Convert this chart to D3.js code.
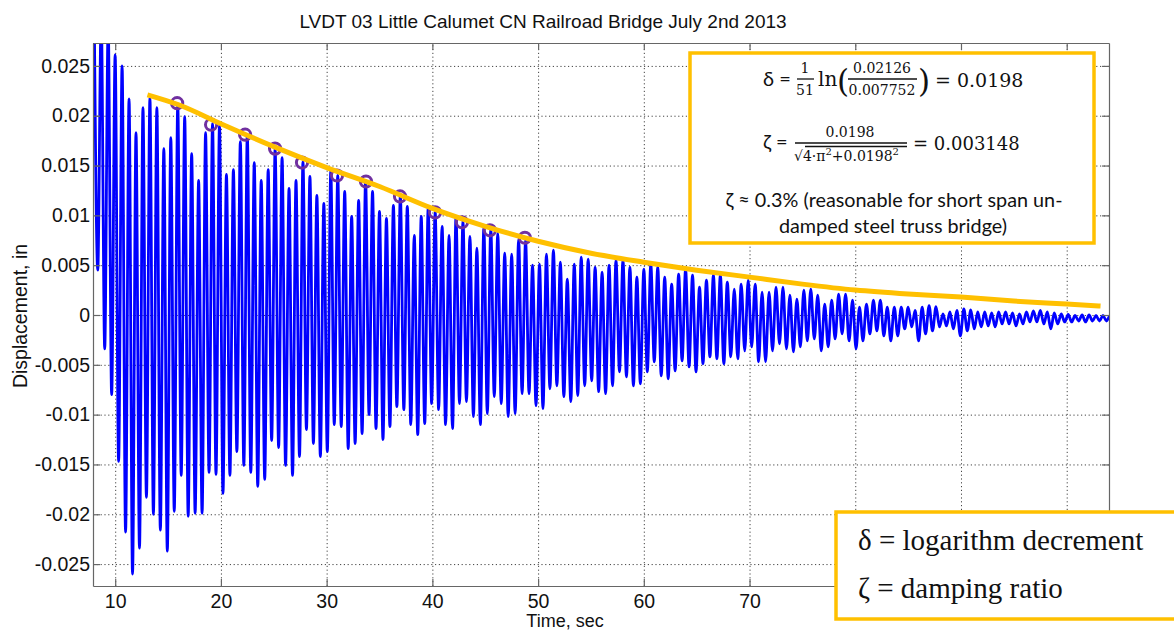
<!DOCTYPE html>
<html>
<head>
<meta charset="utf-8">
<script src="https://cdn.jsdelivr.net/npm/d3@7"></script>
<style>
  body { margin: 0; background: #fff; }
  svg { display: block; }
</style>
</head>
<body>
<svg id="chart"></svg>
<script>
const width = 1174, height = 631;

// displacement record: one peak and the trough after it, per cycle
const firstPeakTime = 8.02;
const cyclePeriod = 0.658;
const peakValues = [
  0.030, 0.030, 0.029, 0.0261, 0.0250, 0.0217, 0.0183, 0.0208, 0.0218, 0.0208,
  0.0167, 0.0178, 0.0211, 0.0199, 0.0162, 0.0135, 0.0183, 0.0192, 0.0190, 0.0141,
  0.0146, 0.0174, 0.0181, 0.0153, 0.0135, 0.0146, 0.0167, 0.0158, 0.0127, 0.0135,
  0.0154, 0.0139, 0.0120, 0.0112, 0.0145, 0.0140, 0.0124, 0.0099, 0.0115, 0.0135,
  0.0124, 0.0104, 0.0097, 0.0110, 0.0120, 0.0109, 0.0080, 0.0099, 0.0107, 0.0104,
  0.0089, 0.0080, 0.0099, 0.0095, 0.0079, 0.0067, 0.0087, 0.0087, 0.0082, 0.0062,
  0.0061, 0.0076, 0.0075, 0.0050, 0.0051, 0.0061, 0.0065, 0.0053, 0.0036, 0.0051,
  0.0058, 0.0056, 0.0048, 0.0043, 0.0050, 0.0055, 0.0055, 0.0048, 0.0038, 0.0046,
  0.0051, 0.0048, 0.0038, 0.0031, 0.0041, 0.0046, 0.0040, 0.0028, 0.0035, 0.0040,
  0.0040, 0.0033, 0.0026, 0.0031, 0.0035, 0.0031, 0.0023, 0.0023, 0.0028, 0.0028,
  0.0020, 0.0016, 0.0025, 0.0026, 0.0020, 0.0011, 0.0015, 0.0021, 0.0021, 0.0015,
  0.0008, 0.0011, 0.0015, 0.0015, 0.0008, 0.0008, 0.0008, 0.0008,
  0.00045, 0.0008, 0.00095, 0.00085, 0.0001, 0.0003, 0.00045, 0.0006, 0.0005, 0.0003,
  0.0003, 0.0002, 0.0003, 0.0003, 0.0002, 0.0001, 0.0003, 0.0004, 0.00045, 0.0003,
  0.0002, 0.0001, 0.00005, -0.00005, 0, 0, -0.00005, -0.00005, -0.0001
];
const troughValues = [
  0.0045, -0.0034, -0.0080, -0.0147, -0.0218, -0.0260, -0.0234, -0.0183, -0.0200, -0.0216,
  -0.0237, -0.0197, -0.0161, -0.0202, -0.0199, -0.0199, -0.0158, -0.0160, -0.0179, -0.0161,
  -0.0137, -0.0151, -0.0158, -0.0172, -0.0165, -0.0126, -0.0133, -0.0151, -0.0161, -0.0142,
  -0.0115, -0.0129, -0.0142, -0.0137, -0.0110, -0.0112, -0.0134, -0.0129, -0.0119, -0.0100,
  -0.0114, -0.0125, -0.0112, -0.0092, -0.0095, -0.0110, -0.0120, -0.0109, -0.0089, -0.0095,
  -0.0110, -0.0114, -0.0089, -0.0087, -0.0102, -0.0110, -0.0099, -0.0082, -0.0089, -0.0102,
  -0.0099, -0.0079, -0.0079, -0.0091, -0.0094, -0.0074, -0.0071, -0.0082, -0.0087, -0.0081,
  -0.0071, -0.0066, -0.0077, -0.0079, -0.0071, -0.0057, -0.0062, -0.0071, -0.0069, -0.0057,
  -0.0047, -0.0061, -0.0064, -0.0056, -0.0046, -0.0052, -0.0057, -0.0049, -0.0042, -0.0044,
  -0.0049, -0.0042, -0.0044, -0.0036, -0.0032, -0.0047, -0.0047, -0.0036, -0.0029, -0.0034,
  -0.0037, -0.0032, -0.0026, -0.0024, -0.0036, -0.0032, -0.0024, -0.0019, -0.0026, -0.0034,
  -0.0026, -0.0019, -0.0016, -0.0021, -0.0026, -0.0021, -0.0014, -0.0012,
  -0.0026, -0.0019, -0.0016, -0.0012, -0.0011, -0.0014, -0.0021, -0.0016, -0.0014, -0.0012,
  -0.0011, -0.0012, -0.0009, -0.0009, -0.0011, -0.0009, -0.0007, -0.0007, -0.0009, -0.0014,
  -0.0009, -0.0007, -0.0007, -0.0006, -0.0007, -0.0006, -0.0006, -0.0006, -0.0006
];

// peaks picked for the log decrement
const circleTimes = [15.86, 19.07, 22.29, 25.12, 27.67, 30.98, 33.72, 36.94, 40.25, 42.80, 45.44, 48.75];
const circleValues = [0.02126, 0.0191, 0.0181, 0.0167, 0.0153, 0.0140, 0.0134, 0.0119, 0.0103, 0.0093, 0.0085, 0.007752];

// envelope drawn through them
const envTimes = [13.05, 16, 20, 25, 30, 35, 40, 45, 50, 55, 60, 65, 70, 75, 80, 85, 90, 95, 100, 103.2];
const envValues = [0.0221, 0.0211, 0.0192, 0.0169, 0.0148, 0.0129, 0.0107, 0.0089, 0.0074, 0.0062,
  0.0053, 0.0045, 0.0038, 0.0031, 0.0025, 0.0021, 0.0018, 0.0014, 0.0011, 0.0009];

const timeTicks = [10, 20, 30, 40, 50, 60, 70, 80, 90, 100];
const dispTicks = [-0.025, -0.02, -0.015, -0.01, -0.005, 0, 0.005, 0.01, 0.015, 0.02, 0.025];

const svg = d3.select("#chart").attr("width", width).attr("height", height);
svg.append("rect").attr("width", width).attr("height", height).attr("fill", "#fff");

const pLeft = 93, pRight = 1109, pTop = 43, pBottom = 586;
const x = d3.scaleLinear().domain([7.9, 104]).range([pLeft, pRight]);
const y = d3.scaleLinear().domain([-0.0272, 0.0273]).range([pBottom, pTop]);

svg.append("defs").append("clipPath").attr("id", "plotClip")
  .append("rect").attr("x", pLeft).attr("y", pTop).attr("width", pRight - pLeft).attr("height", pBottom - pTop);

// grid
const grid = svg.append("g").attr("class", "grid");
grid.append("g").attr("transform", `translate(0,${pBottom})`)
  .call(d3.axisBottom(x).tickValues(timeTicks).tickSize(-(pBottom - pTop)).tickFormat(""));
grid.append("g").attr("transform", `translate(${pLeft},0)`)
  .call(d3.axisLeft(y).tickValues(dispTicks).tickSize(-(pRight - pLeft)).tickFormat(""));
grid.selectAll(".domain").remove();
grid.selectAll("line").attr("stroke", "#444").attr("stroke-width", 1).attr("stroke-dasharray", "1.2,2.6");

// signal
const signal = [];
peakValues.forEach((v, i) => {
  signal.push({ t: firstPeakTime + i * cyclePeriod, v: v });
  signal.push({ t: firstPeakTime + (i + 0.5) * cyclePeriod, v: troughValues[i] });
});
const plot = svg.append("g").attr("clip-path", "url(#plotClip)");
plot.append("path").datum(signal)
  .attr("fill", "none").attr("stroke", "#0000ff").attr("stroke-width", 2.8)
  .attr("stroke-linejoin", "round")
  .attr("d", d3.line().x(d => x(d.t)).y(d => y(d.v)).curve(d3.curveMonotoneX));

// picked peaks
plot.selectAll("circle.pk").data(circleTimes).enter().append("circle")
  .attr("class", "pk")
  .attr("cx", d => x(d)).attr("cy", (d, i) => y(circleValues[i]))
  .attr("r", 5.6).attr("fill", "none").attr("stroke", "#7030a0").attr("stroke-width", 3);

// envelope
plot.append("path").datum(envTimes.map((t, i) => ({ t: t, v: envValues[i] })))
  .attr("fill", "none").attr("stroke", "#ffc000").attr("stroke-width", 5)
  .attr("stroke-linecap", "butt")
  .attr("d", d3.line().x(d => x(d.t)).y(d => y(d.v)).curve(d3.curveMonotoneX));

// axes (ticks inside, box all round)
const axisCol = "#666";
const fmt = d => String(+d.toFixed(3));
const ax = svg.append("g").attr("class", "axes").attr("font-family", "'Liberation Sans', Arial, sans-serif");
ax.append("g").attr("transform", `translate(0,${pBottom})`)
  .call(d3.axisBottom(x).tickValues(timeTicks).tickSizeInner(-7).tickSizeOuter(0).tickPadding(8)
    .tickFormat(d => d < 80 ? String(d) : ""));   // 80..100 sit under the legend box
ax.append("g").attr("transform", `translate(0,${pTop})`)
  .call(d3.axisTop(x).tickValues(timeTicks).tickSizeInner(-7).tickSizeOuter(0).tickFormat(""));
ax.append("g").attr("transform", `translate(${pLeft},0)`)
  .call(d3.axisLeft(y).tickValues(dispTicks).tickSizeInner(-7).tickSizeOuter(0).tickPadding(3).tickFormat(fmt));
ax.append("g").attr("transform", `translate(${pRight},0)`)
  .call(d3.axisRight(y).tickValues(dispTicks).tickSizeInner(-7).tickSizeOuter(0).tickFormat(""));
ax.selectAll(".domain").attr("stroke", axisCol).attr("stroke-width", 1.2);
ax.selectAll(".tick line").attr("stroke", axisCol).attr("stroke-width", 1.2);
ax.selectAll(".tick text").attr("fill", "#111").attr("font-size", 19.5);

// titles
const labelFont = "'Liberation Sans', Arial, sans-serif";
svg.append("text").attr("x", 543).attr("y", 28).attr("text-anchor", "middle")
  .attr("font-family", labelFont).attr("font-size", 19).attr("fill", "#111")
  .text("LVDT 03 Little Calumet CN Railroad Bridge July 2nd 2013");
svg.append("text").attr("x", 565).attr("y", 627).attr("text-anchor", "middle")
  .attr("font-family", labelFont).attr("font-size", 18).attr("fill", "#111")
  .text("Time, sec");
svg.append("text").attr("transform", "translate(27,316) rotate(-90)").attr("text-anchor", "middle")
  .attr("font-family", labelFont).attr("font-size", 19.5).attr("fill", "#111")
  .text("Displacement, in");

// formula box
const fb = svg.append("g");
fb.append("rect").attr("x", 690).attr("y", 53).attr("width", 404).attr("height", 190)
  .attr("fill", "#fff").attr("stroke", "#ffc000").attr("stroke-width", 3.5);
const sans = "Lato, 'Open Sans', sans-serif", serif = "'DejaVu Serif', serif";
function txt(g, xx, yy, s, size, fam, anchor) {
  return g.append("text").attr("x", xx).attr("y", yy).attr("font-size", size)
    .attr("font-family", fam).attr("fill", "#111").attr("text-anchor", anchor || "start").text(s);
}
function bar(g, x1, x2, yy) {
  g.append("line").attr("x1", x1).attr("x2", x2).attr("y1", yy).attr("y2", yy)
    .attr("stroke", "#111").attr("stroke-width", 1.3);
}
// delta line
txt(fb, 763, 86, "δ =", 20, sans);
txt(fb, 805, 73, "1", 14, serif, "middle");
bar(fb, 797, 814, 79);
txt(fb, 805, 95, "51", 14, serif, "middle");
txt(fb, 818, 86, "ln", 20, serif);
txt(fb, 837, 92, "(", 31, serif);
txt(fb, 882, 73, "0.02126", 14, serif, "middle");
bar(fb, 848, 917, 79);
txt(fb, 882, 95, "0.007752", 14, serif, "middle");
txt(fb, 918, 92, ")", 31, serif);
txt(fb, 935, 87, "= 0.0198", 19, serif);
// zeta line
txt(fb, 763, 149, "ζ =", 20, sans);
txt(fb, 850, 137, "0.0198", 14, serif, "middle");
bar(fb, 795, 907, 143);
const den = txt(fb, 794, 161, "", 14, serif);
den.append("tspan").text("√4·π");
den.append("tspan").attr("font-size", 10).attr("dy", -6).text("2");
den.append("tspan").attr("dy", 6).text("+0.0198");
den.append("tspan").attr("font-size", 10).attr("dy", -6).text("2");
bar(fb, 805, 907, 146.5);
txt(fb, 913, 150, "= 0.003148", 18, serif);
// remark
txt(fb, 894, 207, "ζ ≈ 0.3% (reasonable for short span un-", 19.8, sans, "middle");
txt(fb, 893, 233, "damped steel truss bridge)", 19.8, sans, "middle");

// legend of symbols
const lb = svg.append("g");
lb.append("rect").attr("x", 836).attr("y", 512).attr("width", 360).attr("height", 107)
  .attr("fill", "#fff").attr("stroke", "#ffc000").attr("stroke-width", 3.5);
txt(lb, 858, 550, "δ = logarithm decrement", 29, "'Liberation Serif', 'Times New Roman', serif");
txt(lb, 858, 598, "ζ = damping ratio", 29, "'Liberation Serif', 'Times New Roman', serif");
</script>
</body>
</html>
